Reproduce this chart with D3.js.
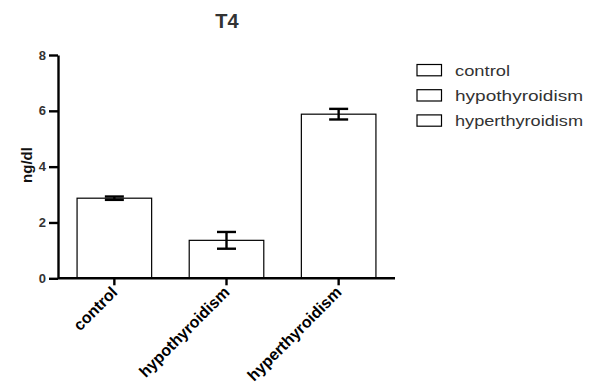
<!DOCTYPE html>
<html><head><meta charset="utf-8">
<script src="https://cdn.jsdelivr.net/npm/d3@7/dist/d3.min.js"></script>
<style>body{margin:0;background:#fff}svg{display:block}</style>
</head><body><svg id="c" width="594" height="390"></svg>
<script>
const categories = ["control", "hypothyroidism", "hyperthyroidism"];
const means = [2.87, 1.36, 5.88];
const errors = [0.06, 0.30, 0.19];
const yTicks = [0, 2, 4, 6, 8];
const title = "T4";
const yLabel = "ng/dl";

const svg = d3.select("#c");
const font = "'Liberation Sans', Arial, sans-serif";
const x = d3.scaleBand().domain(categories).range([58, 395]).paddingInner(0.335).paddingOuter(0.17);
const y = d3.scaleLinear().domain([0, 8]).range([278.3, 55]);

// bars
svg.selectAll("rect.bar").data(categories).enter().append("rect")
  .attr("x", d => x(d)).attr("y", (d,i) => y(means[i]))
  .attr("width", x.bandwidth()).attr("height", (d,i) => y(0) - y(means[i]))
  .attr("fill", "#fff").attr("stroke", "#000").attr("stroke-width", 1.2);

// error bars
const eb = svg.selectAll("g.eb").data(categories).enter().append("g")
  .attr("stroke", "#000").attr("stroke-width", 2.4);
eb.append("line").attr("x1", d => x(d)+x.bandwidth()/2).attr("x2", d => x(d)+x.bandwidth()/2)
  .attr("y1", (d,i) => y(means[i]+errors[i])).attr("y2", (d,i) => y(means[i]-errors[i]));
eb.append("line").attr("x1", d => x(d)+x.bandwidth()/2-9.5).attr("x2", d => x(d)+x.bandwidth()/2+9.5)
  .attr("y1", (d,i) => y(means[i]+errors[i])).attr("y2", (d,i) => y(means[i]+errors[i]));
eb.append("line").attr("x1", d => x(d)+x.bandwidth()/2-9.5).attr("x2", d => x(d)+x.bandwidth()/2+9.5)
  .attr("y1", (d,i) => y(means[i]-errors[i])).attr("y2", (d,i) => y(means[i]-errors[i]));

// y axis
const ya = svg.append("g").attr("transform", "translate(58,0)")
  .call(d3.axisLeft(y).tickValues(yTicks).tickSize(9).tickPadding(3).tickSizeOuter(0));
ya.select(".domain").attr("stroke-width", 2.4);
ya.selectAll(".tick line").attr("stroke-width", 2.4);
ya.selectAll("text").attr("font-family", font).attr("font-weight", "bold").attr("font-size", 13).attr("fill", "#333");

// x axis
const xa = svg.append("g").attr("transform", "translate(0,278.3)")
  .call(d3.axisBottom(x).tickSize(7).tickSizeOuter(0));
xa.select(".domain").attr("stroke-width", 2.4).attr("d", "M58,0H395");
xa.selectAll(".tick line").attr("stroke-width", 2.4);
xa.selectAll("text").attr("font-family", font).attr("font-weight", "bold").attr("font-size", 16).attr("fill", "#000")
  .attr("text-anchor", "end").attr("dy", 0).attr("y", 0)
  .attr("transform", "translate(4,15) rotate(-45)");

// title
svg.append("text").attr("x", 227).attr("y", 28).attr("text-anchor", "middle")
  .attr("font-family", font).attr("font-weight", "bold").attr("font-size", 20).attr("fill", "#333").text(title);

// y label
svg.append("text").attr("transform", "translate(32,165) rotate(-90)").attr("text-anchor", "middle")
  .attr("font-family", font).attr("font-weight", "bold").attr("font-size", 15).attr("fill", "#111").text(yLabel);

// legend
const legendW = [55, 128, 128];
const lg = svg.selectAll("g.lg").data(categories).enter().append("g")
  .attr("transform", (d,i) => `translate(417,${64.5 + i*25.2})`);
lg.append("rect").attr("width", 24.5).attr("height", 11.3).attr("fill", "#fff").attr("stroke", "#000").attr("stroke-width", 1.2);
lg.append("text").attr("x", 38).attr("y", 11).attr("font-family", font).attr("font-size", 14.5).attr("fill", "#333")
  .attr("textLength", (d,i) => legendW[i]).attr("lengthAdjust", "spacingAndGlyphs").text(d => d);
</script></body></html>
